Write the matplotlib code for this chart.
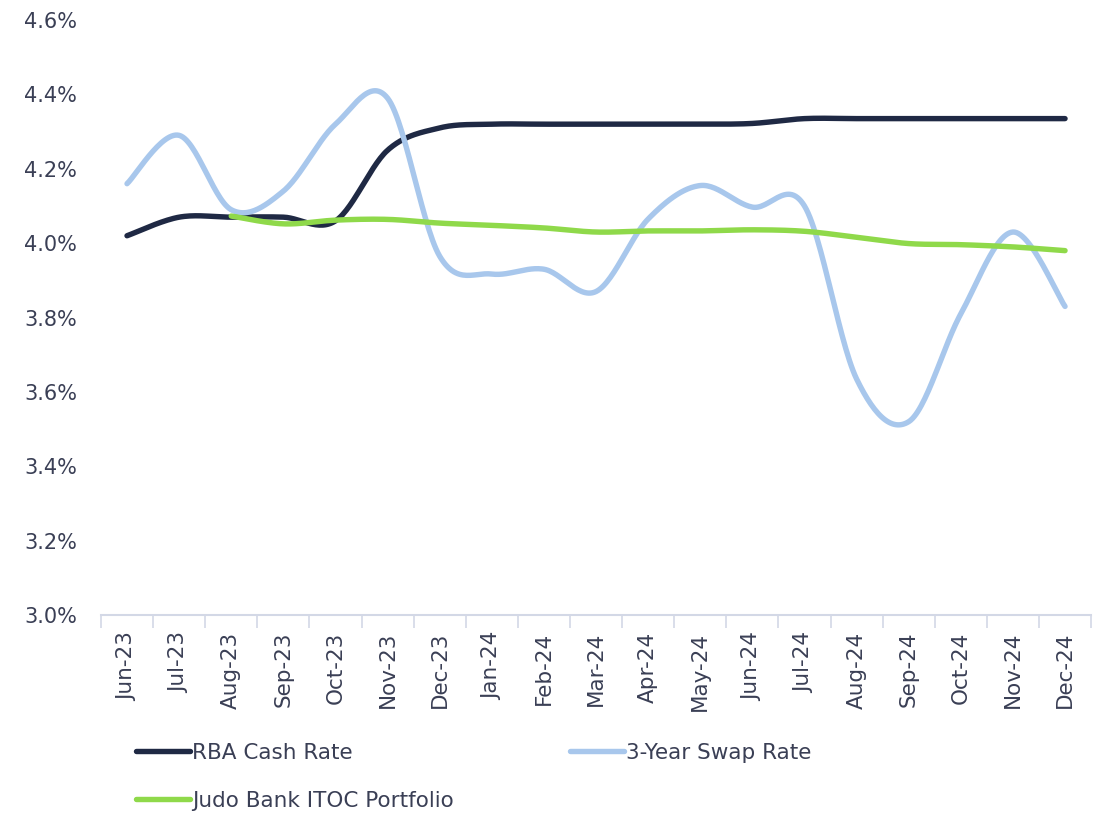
import numpy as np
import matplotlib.pyplot as plt
from matplotlib.ticker import FuncFormatter

# --- data ---
months = ["Jun-23", "Jul-23", "Aug-23", "Sep-23", "Oct-23", "Nov-23", "Dec-23",
          "Jan-24", "Feb-24", "Mar-24", "Apr-24", "May-24", "Jun-24", "Jul-24",
          "Aug-24", "Sep-24", "Oct-24", "Nov-24", "Dec-24"]
rba_cash = [4.02, 4.07, 4.07, 4.07, 4.06, 4.25, 4.31, 4.32, 4.32, 4.32,
            4.32, 4.32, 4.322, 4.335, 4.335, 4.335, 4.335, 4.335, 4.335]
swap_3y = [4.16, 4.29, 4.09, 4.14, 4.32, 4.39, 3.965, 3.917, 3.93, 3.87,
           4.065, 4.155, 4.097, 4.10, 3.635, 3.52, 3.81, 4.03, 3.83]
judo_itoc = [None, None, 4.073, 4.052, 4.062, 4.064, 4.054, 4.048, 4.041, 4.03,
             4.033, 4.033, 4.036, 4.032, 4.016, 3.999, 3.996, 3.99, 3.98]

# --- colours ---
c_rba = "#1f2944"
c_swap = "#a8c7ec"
c_judo = "#8fd94a"
c_text = "#3a3f55"


def smooth(xs, ys, n=30):
    # excel-style smoothed line (catmull-rom through every point)
    xs = np.asarray(xs, float)
    ys = np.asarray(ys, float)
    px = np.concatenate([[xs[0]], xs, [xs[-1]]])
    py = np.concatenate([[ys[0]], ys, [ys[-1]]])
    outx, outy = [], []
    t = np.linspace(0, 1, n)
    for i in range(1, len(px) - 2):
        p0, p1, p2, p3 = py[i - 1], py[i], py[i + 1], py[i + 2]
        q0, q1, q2, q3 = px[i - 1], px[i], px[i + 1], px[i + 2]
        b1y, b2y = p1 + (p2 - p0) / 6, p2 - (p3 - p1) / 6
        b1x, b2x = q1 + (q2 - q0) / 6, q2 - (q3 - q1) / 6
        outy.append((1 - t) ** 3 * p1 + 3 * (1 - t) ** 2 * t * b1y + 3 * (1 - t) * t ** 2 * b2y + t ** 3 * p2)
        outx.append((1 - t) ** 3 * q1 + 3 * (1 - t) ** 2 * t * b1x + 3 * (1 - t) * t ** 2 * b2x + t ** 3 * q2)
    return np.concatenate(outx), np.concatenate(outy)


plt.rcParams["font.family"] = ["DejaVu Sans"]

fig = plt.figure(figsize=(11.01, 8.19), dpi=100)
ax = fig.add_axes([0.0917, 0.249, 0.8993, 0.7265])

x = np.arange(len(months))
series = [
    ("RBA Cash Rate", rba_cash, c_rba),
    ("3-Year Swap Rate", swap_3y, c_swap),
    ("Judo Bank ITOC Portfolio", judo_itoc, c_judo),
]
lines = {}
for label, vals, col in series:
    idx = [i for i, v in enumerate(vals) if v is not None]
    sx, sy = smooth(x[idx], [vals[i] for i in idx])
    lines[label], = ax.plot(sx, sy, color=col, lw=3.9, solid_capstyle="round", label=label)

# --- axes ---
ax.set_xlim(-0.5, len(months) - 0.5)
ax.set_ylim(3.0, 4.6)
ax.set_yticks(np.arange(3.0, 4.61, 0.2))
ax.yaxis.set_major_formatter(FuncFormatter(lambda v, p: f"{v:.1f}%"))
ax.set_xticks(x)
ax.set_xticklabels(months, rotation=90)
ax.set_xticks(np.arange(-0.5, len(months)), minor=True)

for s in ["top", "right", "left"]:
    ax.spines[s].set_visible(False)
ax.spines["bottom"].set_color("#d3d8e6")
ax.spines["bottom"].set_linewidth(1.5)

ax.tick_params(axis="y", length=0, pad=17, labelsize=15, labelcolor=c_text)
ax.tick_params(axis="x", which="major", length=0, pad=12, labelsize=15.5, labelcolor=c_text)
ax.tick_params(axis="x", which="minor", length=9, width=1.2, color="#d3d8e6")

# --- legend (row-major order like the original) ---
order = ["RBA Cash Rate", "Judo Bank ITOC Portfolio", "3-Year Swap Rate"]
fig.legend([lines[k] for k in order], order, loc="upper left",
           bbox_to_anchor=(0.106, 0.117), ncol=2, frameon=False, fontsize=15.5,
           handlelength=2.5, handletextpad=0.1, columnspacing=5.4,
           labelspacing=1.3, labelcolor=c_text)

plt.savefig("out.png", dpi=100)
plt.close()
